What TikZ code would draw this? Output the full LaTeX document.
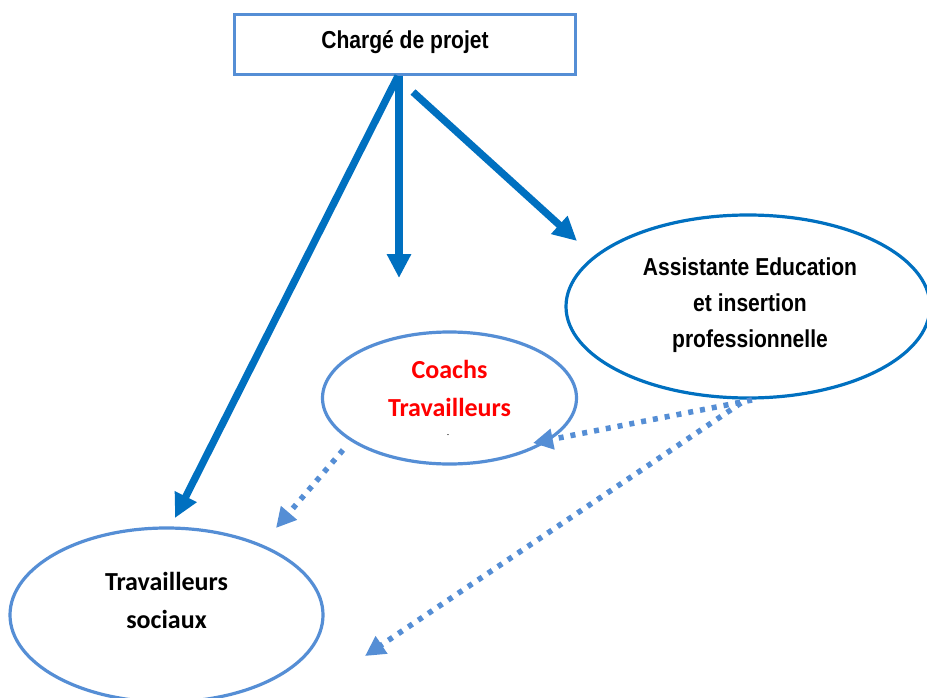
\documentclass[tikz,border=0pt]{standalone}
\usepackage{fontspec}
\setmainfont{Liberation Sans}
\newfontfamily\arialfont[FakeStretch=0.86]{Liberation Sans}
\newfontfamily\calfont{Carlito}
\usetikzlibrary{shapes.geometric,arrows.meta}
\definecolor{lightblue}{HTML}{558ED5}
\definecolor{darkblue}{HTML}{0070C0}
\definecolor{redtext}{HTML}{FF0000}
\tikzset{
  boxstyle/.style={draw=lightblue, line width=3.5pt, rectangle, minimum width=341pt, minimum height=60pt, inner sep=0pt, fill=white},
  ellA/.style={draw=darkblue, line width=3.2pt, ellipse, inner sep=0pt},
  ellB/.style={draw=lightblue, line width=3.2pt, ellipse, inner sep=0pt},
  arialtxt/.style={font=\arialfont\bfseries\fontsize{24.5}{36}\selectfont, align=center, inner sep=0pt},
  caltxt/.style={font=\calfont\bfseries\fontsize{26}{38}\selectfont, align=center, inner sep=0pt},
  bigarrow/.style={draw=darkblue, line width=7.3pt, -{Triangle[length=24pt,width=23pt]}},
  dotarrow/.style={draw=lightblue, line width=5.5pt, dash pattern=on 5pt off 7pt, -{Triangle[length=20pt,width=20pt]}}
}
\begin{document}
\begin{tikzpicture}[x=1pt,y=-1pt]
\useasboundingbox (0,0) rectangle (927,698);
\fill[white] (0,0) rectangle (927,698);

% nodes
\node[boxstyle] (chef) at (405,44.5) {};
\node[arialtxt] (cheftxt) at (405,42) {Chargé de projet};

\node[ellB, minimum width=254pt, minimum height=132pt] (coach) at (449.5,398) {};
\node[caltxt, text=redtext] (coachtxt) at (449.5,388) {Coachs\\Travailleurs};
\node[font=\calfont\fontsize{8}{8}\selectfont, inner sep=0pt] (dash) at (448,436) {-};

\node[ellA, minimum width=364pt, minimum height=183pt] (assist) at (748,306.5) {};
\node[arialtxt] (assisttxt) at (750,305) {Assistante Education\\et insertion\\professionnelle};

\node[ellB, minimum width=313pt, minimum height=174pt] (social) at (166.5,615) {};
\node[caltxt] (socialtxt) at (166.5,600) {Travailleurs\\sociaux};

% connector end points
\coordinate (s1) at (398,76);
\coordinate (s2) at (399,76);
\coordinate (s3) at (413,92);
\coordinate (t1) at (175,518);
\coordinate (t2) at (399,278);
\coordinate (t3) at (577,241);

\coordinate (d0) at (752,400);
\coordinate (d0b) at (741,403);
\coordinate (d1) at (533,443);
\coordinate (d2) at (365,656);
\coordinate (d3s) at (343,450);
\coordinate (d3) at (276,528);

% thick arrows
\draw[bigarrow] (s1) -- (t1);
\draw[bigarrow] (s2) -- (t2);
\draw[bigarrow] (s3) -- (t3);

% dotted arrows
\draw[dotarrow] (d0) -- (d1);
\draw[dotarrow] (d0b) -- (d2);
\draw[dotarrow] (d3s) -- (d3);
\end{tikzpicture}
\end{document}
